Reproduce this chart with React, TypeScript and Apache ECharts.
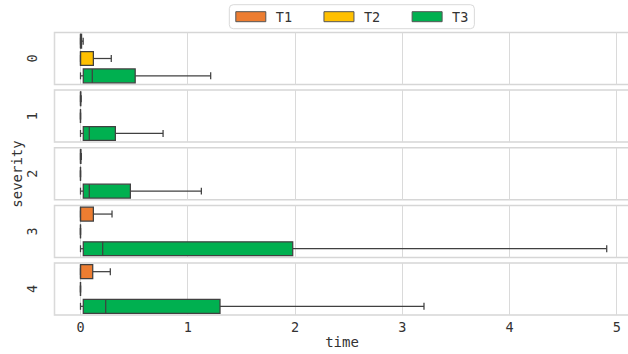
import React, { useEffect, useRef } from "react";
import * as echarts from "echarts";

const TYPES = ["T1", "T2", "T3"];
const SEVERITY = ["0", "1", "2", "3", "4"];
const COLORS = ["#ED7D31", "#FFC000", "#00B050"];
const TICKS = [0, 1, 2, 3, 4, 5];

// each row: [min, q1, median, q3, max] for T1, T2, T3
const SEV0 = [
  [0, 0, 0, 0.01, 0.025],
  [0, 0, 0, 0.12, 0.287],
  [0, 0.026, 0.11, 0.51, 1.214],
];
const SEV1 = [
  [0, 0, 0, 0.003, 0.006],
  [0, 0, 0, 0, 0],
  [0, 0.026, 0.082, 0.325, 0.77],
];
const SEV2 = [
  [0, 0, 0, 0.004, 0.008],
  [0, 0, 0, 0, 0],
  [0, 0.026, 0.082, 0.465, 1.127],
];
const SEV3 = [
  [0, 0, 0, 0.12, 0.294],
  [0, 0, 0, 0, 0],
  [0, 0.026, 0.207, 1.979, 4.907],
];
const SEV4 = [
  [0, 0, 0, 0.114, 0.278],
  [0, 0, 0, 0, 0],
  [0, 0.026, 0.235, 1.301, 3.203],
];
const PANELS = [SEV0, SEV1, SEV2, SEV3, SEV4];

const FONT = "'DejaVu Sans Mono', monospace";
const TEXT = "#333333";
const STROKE = "#404040";

const GRID_LEFT = 54.5;
const GRID_WIDTH = 600;
const GRID_TOPS = [32.5, 90.1, 147.8, 205.4, 263];
const GRID_H = 52;
const X_MIN = -0.2424;
const X_MAX = X_MIN + GRID_WIDTH / 107.24;

function renderBox(params: any, api: any) {
  const cat = api.value(0);
  const xs = [1, 2, 3, 4, 5].map((k) => api.coord([api.value(k), cat])[0]);
  const yc = api.coord([0, cat])[1];
  const band = api.size([0, 1])[1];
  const bh = band * 0.8;
  const ch = bh * 0.5;
  const color = COLORS[cat];
  const ls = { stroke: STROKE, lineWidth: 1.25 };
  return {
    type: "group",
    children: [
      { type: "line", shape: { x1: xs[0], y1: yc, x2: xs[1], y2: yc }, style: ls },
      { type: "line", shape: { x1: xs[3], y1: yc, x2: xs[4], y2: yc }, style: ls },
      { type: "line", shape: { x1: xs[0], y1: yc - ch / 2, x2: xs[0], y2: yc + ch / 2 }, style: ls },
      { type: "line", shape: { x1: xs[4], y1: yc - ch / 2, x2: xs[4], y2: yc + ch / 2 }, style: ls },
      {
        type: "rect",
        shape: { x: xs[1], y: yc - bh / 2, width: xs[3] - xs[1], height: bh },
        style: { fill: color, stroke: STROKE, lineWidth: 1.25 },
      },
      { type: "line", shape: { x1: xs[2], y1: yc - bh / 2, x2: xs[2], y2: yc + bh / 2 }, style: ls },
    ],
  };
}

export default function App() {
  const ref = useRef<HTMLDivElement>(null);
  useEffect(() => {
    if (!ref.current) return;
    const chart = echarts.init(ref.current, null, { renderer: "svg" });
    const last = PANELS.length - 1;
    const grid = PANELS.map((_, i) => ({
      left: GRID_LEFT,
      top: GRID_TOPS[i],
      width: GRID_WIDTH,
      height: GRID_H,
      outerBoundsMode: "none",
      containLabel: false,
      show: true,
      backgroundColor: "#ffffff",
      borderColor: "#d6d6d6",
      borderWidth: 1.5,
    }));
    const xAxis = PANELS.map((_, i) => ({
      type: "value",
      gridIndex: i,
      min: X_MIN,
      max: X_MAX,
      splitNumber: 5,
      minInterval: 1,
      maxInterval: 1,
      axisLine: { show: false },
      axisTick: { show: false },
      splitLine: { show: true, lineStyle: { color: "#dadada", width: 1 } },
      axisLabel: {
        show: i === last,
        margin: 5,
        fontFamily: FONT,
        fontSize: 13.5,
        color: TEXT,
        formatter: (v: number) => {
          const r = Math.round(v);
          return Math.abs(v - r) < 1e-6 && TICKS.indexOf(r) >= 0 ? String(r) : "";
        },
      },
    }));
    const yAxis = PANELS.map((_, i) => ({
      type: "category",
      gridIndex: i,
      data: TYPES,
      inverse: true,
      axisLine: { show: false },
      axisTick: { show: false },
      axisLabel: { show: false },
      splitLine: { show: false },
      name: SEVERITY[i],
      nameLocation: "middle",
      nameGap: 16,
      nameRotate: 90,
      nameTextStyle: { fontFamily: FONT, fontSize: 13.5, color: TEXT },
    }));
    const series: any[] = [];
    PANELS.forEach((panel, i) => {
      panel.forEach((stats, c) => {
        series.push({
          type: "custom",
          name: TYPES[c],
          xAxisIndex: i,
          yAxisIndex: i,
          itemStyle: { color: COLORS[c] },
          encode: { x: [1, 2, 3, 4, 5], y: 0 },
          renderItem: renderBox,
          data: [[c, ...stats]],
        });
      });
    });
    chart.setOption({
      animation: false,
      backgroundColor: "#ffffff",
      legend: {
        data: TYPES,
        left: 229.3,
        top: 4.7,
        icon: "rect",
        itemWidth: 30,
        itemHeight: 10,
        itemGap: 31.4,
        padding: [5, 6],
        borderColor: "#d9d9d9",
        borderWidth: 1,
        borderRadius: 4,
        backgroundColor: "#ffffff",
        itemStyle: { borderColor: "#555555", borderWidth: 1 },
        textStyle: { fontFamily: FONT, fontSize: 13.5, color: TEXT, padding: [0, 0, 0, 5] },
        selectedMode: false,
      },
      grid,
      xAxis,
      yAxis,
      series,
      graphic: [
        {
          type: "text",
          x: 16.5,
          y: 174,
          rotation: Math.PI / 2,
          style: {
            text: "severity",
            fontFamily: FONT,
            fontSize: 14,
            fill: TEXT,
            align: "center",
            verticalAlign: "middle",
          },
        },
        {
          type: "text",
          x: 342,
          y: 342,
          style: {
            text: "time",
            fontFamily: FONT,
            fontSize: 14,
            fill: TEXT,
            align: "center",
            verticalAlign: "middle",
          },
        },
      ],
    });
    return () => chart.dispose();
  }, []);
  return (
    <div
      ref={ref}
      style={{ position: "fixed", left: 0, top: 0, width: 628, height: 354, background: "#fff", overflow: "hidden" }}
    />
  );
}
